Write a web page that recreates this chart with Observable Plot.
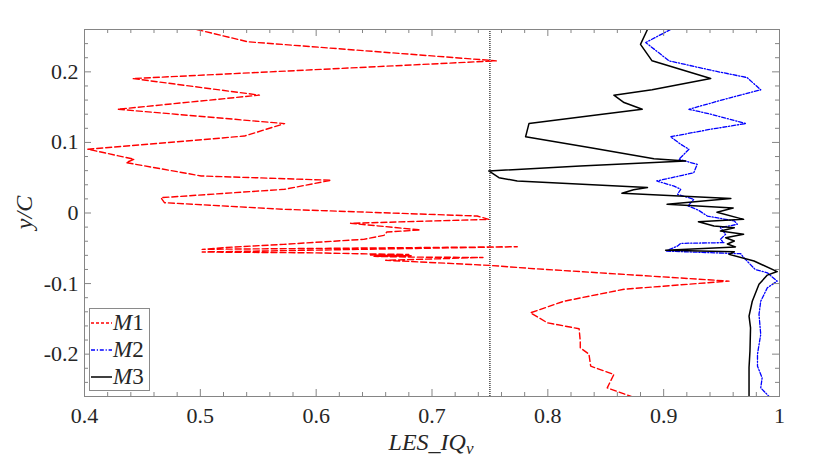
<!DOCTYPE html>
<html><head><meta charset="utf-8">
<script src="https://cdn.jsdelivr.net/npm/d3@7"></script>
<script src="https://cdn.jsdelivr.net/npm/@observablehq/plot@0.6"></script>
<style>
body{margin:0;background:#fff;}
#chart{position:relative;width:830px;height:461px;}
#chart svg text, #chart svg tspan{font-family:"Liberation Serif", serif !important;}
</style>
</head><body><div id="chart"></div>
<script>
// ---- data ----
const seriesNames = ["M1", "M2", "M3"];
const m1X = [0.497,0.541,0.7555,0.4417,0.551,0.4288,0.5727,0.538,0.4029,0.443,0.436,0.5007,0.613,0.5727,0.466,0.469,0.573,0.739,0.749,0.6297,0.690,0.661,0.6585,0.641,0.572,0.520,0.5016,0.7736,0.5016,0.60,0.645,0.68,0.647,0.682,0.650,0.684,0.744,0.66,0.7497,0.7837,0.9564,0.8658,0.814,0.785,0.7996,0.827,0.828,0.828,0.8355,0.837,0.857,0.8513,0.872];
const m1Y = [0.26,0.2426,0.2156,0.1905,0.167,0.147,0.1267,0.109,0.0903,0.0762,0.0714,0.0525,0.0464,0.0336,0.0217,0.0146,0.0052,-0.0043,-0.009,-0.0146,-0.024,-0.027,-0.0317,-0.0373,-0.0444,-0.049,-0.0515,-0.0478,-0.0553,-0.0565,-0.058,-0.0587,-0.0597,-0.0605,-0.0615,-0.0625,-0.063,-0.067,-0.0742,-0.0784,-0.0965,-0.108,-0.125,-0.1414,-0.1556,-0.164,-0.1816,-0.191,-0.2,-0.217,-0.2288,-0.2478,-0.26];
const m2X = [0.906,0.8845,0.9046,0.9434,0.972,0.9838,0.958,0.9218,0.9406,0.9708,0.9406,0.906,0.9147,0.9218,0.9132,0.929,0.926,0.894,0.909,0.9147,0.912,0.926,0.921,0.930,0.9377,0.961,0.9636,0.949,0.9535,0.949,0.952,0.9147,0.912,0.9017,0.9665,0.969,0.979,0.9895,0.998,0.9895,0.9838,0.9823,0.9838,0.981,0.981,0.985,0.9838,0.991];
const m2Y = [0.26,0.2416,0.2156,0.2014,0.1919,0.1745,0.1636,0.147,0.14,0.1267,0.1187,0.108,0.0974,0.0903,0.076,0.069,0.057,0.0454,0.038,0.0336,0.0265,0.0194,0.010,0.004,-0.0043,-0.0113,-0.016,-0.0208,-0.030,-0.0373,-0.042,-0.043,-0.0468,-0.054,-0.0577,-0.063,-0.080,-0.0847,-0.0965,-0.106,-0.125,-0.1437,-0.172,-0.2,-0.217,-0.2336,-0.2478,-0.26];
const m3X = [0.886,0.880,0.890,0.9406,0.890,0.857,0.8658,0.8815,0.847,0.7837,0.7808,0.837,0.8916,0.919,0.828,0.749,0.7578,0.7736,0.886,0.874,0.864,0.958,0.903,0.960,0.946,0.969,0.930,0.9434,0.961,0.949,0.969,0.9535,0.961,0.955,0.962,0.9017,0.961,0.9564,0.978,0.998,0.9895,0.9823,0.9765,0.9737,0.975,0.9745,0.9737,0.9737];
const m3Y = [0.26,0.239,0.2156,0.1905,0.1745,0.167,0.1565,0.147,0.14,0.1267,0.108,0.0926,0.077,0.0738,0.0667,0.0596,0.05,0.0454,0.036,0.033,0.028,0.0205,0.0123,0.007,0.001,-0.009,-0.0123,-0.0184,-0.0208,-0.0255,-0.030,-0.035,-0.0397,-0.044,-0.048,-0.0529,-0.055,-0.0586,-0.068,-0.083,-0.088,-0.101,-0.125,-0.146,-0.1627,-0.1957,-0.219,-0.26];
const refLineX = [0.75];
const xTicks = [0.4,0.5,0.6,0.7,0.8,0.9,1.0];
const xTickLabels = ["0.4","0.5","0.6","0.7","0.8","0.9","1"];
const yTicks = [-0.2,-0.1,0,0.1,0.2];
const yTickLabels = ["-0.2","-0.1","0","0.1","0.2"];
const xMinor = d3.range(20, 51).filter(i => i % 5 !== 0).map(i => i / 50);
const yMinor = d3.range(-13, 14).filter(i => i % 5 !== 0).map(i => i / 50);

// ---- build ----
const toRows = (xs, ys) => xs.map((x, i) => ({x, y: ys[i]}));
const m1 = toRows(m1X, m1Y), m2 = toRows(m2X, m2Y), m3 = toRows(m3X, m3Y);

const W = 830, H = 461, ML = 84, MR = 51, MT = 29, MB = 65;
const PW = W - ML - MR, PH = H - MT - MB;
const axisColor = "#858585", textColor = "#262626";
const font = "Liberation Serif";
const styles = {
  M1: {stroke: "#ff0000", dash: "6,3", width: 1.4},
  M2: {stroke: "#0000ff", dash: "4,1.8,1.2,1.8", width: 1.3},
  M3: {stroke: "#000000", dash: null, width: 1.5}
};

const plot = Plot.plot({
  width: W, height: H,
  marginLeft: ML, marginRight: MR, marginTop: MT, marginBottom: MB,
  style: {fontSize: "21px", color: textColor, background: "#fff"},
  x: {domain: [0.4, 1], label: null},
  y: {domain: [-0.26, 0.26], label: null},
  marks: [
    Plot.ruleX(refLineX, {stroke: "#000", strokeWidth: 1.1, strokeDasharray: "1,1"}),
    Plot.line(m1, {x: "x", y: "y", stroke: styles.M1.stroke, strokeWidth: styles.M1.width, strokeDasharray: styles.M1.dash, clip: true}),
    Plot.line(m2, {x: "x", y: "y", stroke: styles.M2.stroke, strokeWidth: styles.M2.width, strokeDasharray: styles.M2.dash, clip: true}),
    Plot.line(m3, {x: "x", y: "y", stroke: styles.M3.stroke, strokeWidth: styles.M3.width, clip: true}),
    // inward ticks, bottom/top
    Plot.tickX(xTicks, {x: d => d, stroke: axisColor, insetTop: PH - 7}),
    Plot.tickX(xTicks, {x: d => d, stroke: axisColor, insetBottom: PH - 7}),
    Plot.tickX(xMinor, {x: d => d, stroke: axisColor, insetTop: PH - 4}),
    Plot.tickX(xMinor, {x: d => d, stroke: axisColor, insetBottom: PH - 4}),
    // inward ticks, left/right
    Plot.tickY(yTicks, {y: d => d, stroke: axisColor, insetRight: PW - 7}),
    Plot.tickY(yTicks, {y: d => d, stroke: axisColor, insetLeft: PW - 7}),
    Plot.tickY(yMinor, {y: d => d, stroke: axisColor, insetRight: PW - 4}),
    Plot.tickY(yMinor, {y: d => d, stroke: axisColor, insetLeft: PW - 4}),
    Plot.axisX(xTicks, {anchor: "bottom", tickSize: 0, tickPadding: 11, fontSize: 22, fill: textColor,
      tickFormat: d => xTickLabels[xTicks.indexOf(d)]}),
    Plot.axisY(yTicks, {anchor: "left", tickSize: 0, tickPadding: 6, fontSize: 22, fill: textColor,
      tickFormat: d => yTickLabels[yTicks.indexOf(d)]}),
    Plot.frame({stroke: axisColor, strokeWidth: 1})
  ]
});
document.getElementById("chart").appendChild(plot);

// ---- axis titles & legend (SVG annotations) ----
const svg = d3.select(plot);
const xl = svg.append("text")
  .attr("x", 431).attr("y", 450)
  .attr("text-anchor", "middle")
  .attr("font-family", font).attr("font-size", 24).attr("fill", textColor)
  .attr("font-style", "italic");
xl.append("tspan").text("LES_IQ");
xl.append("tspan").attr("font-size", 17).attr("dy", 4).text("ν");

svg.append("text")
  .attr("transform", `translate(32,${MT + PH / 2}) rotate(-90)`)
  .attr("text-anchor", "middle")
  .attr("font-family", font).attr("font-size", 24).attr("fill", textColor)
  .attr("font-style", "italic")
  .text("y/C");

const lg = svg.append("g").attr("text-anchor", "start");
lg.append("rect").attr("x", 89.5).attr("y", 308.5).attr("width", 60).attr("height", 82)
  .attr("fill", "#fff").attr("stroke", "#8a8a8a").attr("stroke-width", 1);
seriesNames.forEach((name, i) => {
  const cy = 323 + i * 27;
  const s = styles[name];
  lg.append("line").attr("x1", 91).attr("x2", 112).attr("y1", cy).attr("y2", cy)
    .attr("stroke", s.stroke).attr("stroke-width", s.width)
    .attr("stroke-dasharray", name === "M1" ? "3,2" : s.dash);
  const t = lg.append("text").attr("x", 113).attr("y", cy + 7)
    .attr("text-anchor", "start")
    .attr("font-family", font).attr("font-size", 23).attr("fill", textColor);
  t.append("tspan").attr("font-style", "italic").text(name.slice(0, 1));
  t.append("tspan").text(name.slice(1));
});
</script>
</body></html>
